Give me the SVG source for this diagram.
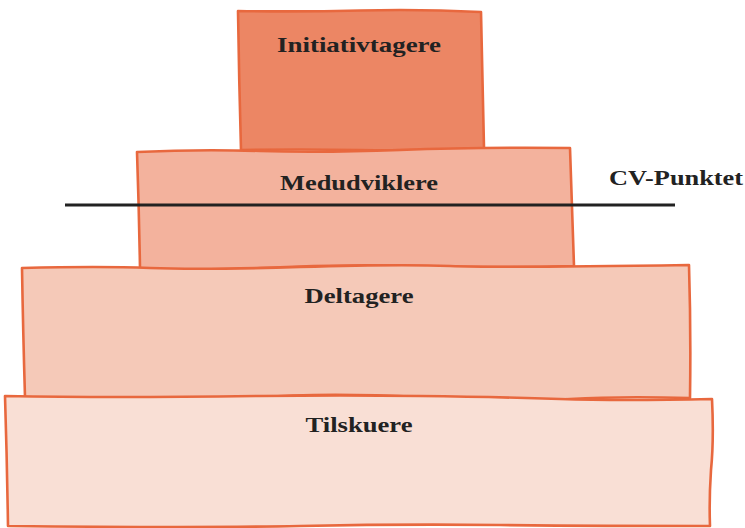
<svg xmlns="http://www.w3.org/2000/svg" width="745" height="528" viewBox="0 0 745 528">
  <style>
    .box { stroke: #E8683E; stroke-width: 2.6; stroke-linejoin: round; }
    .lbl { font-family: "Liberation Serif", "DejaVu Serif", serif; font-weight: bold; font-size: 22px; fill: #222222; text-anchor: middle; }
  </style>
  <rect width="745" height="528" fill="#ffffff"/>

  <g id="initiativtagere">
    <path class="box" fill="#EC8664" d="M238,11 Q300,12 360,10.5 T481,12 Q482,70 484,148 Q420,151 360,150 T241,150 Q239,80 238,11 Z"/>
    <text class="lbl" x="359" y="52" textLength="164" lengthAdjust="spacingAndGlyphs">Initiativtagere</text>
  </g>

  <g id="medudviklere">
    <path class="box" fill="#F3B29D" d="M137,152 Q200,149 260,151 T400,150 T570,148 Q572,200 574,266 Q500,268 420,266 T260,268 T140,268 Q139,210 137,152 Z"/>
    <text class="lbl" x="359" y="190" textLength="158" lengthAdjust="spacingAndGlyphs">Medudviklere</text>
  </g>

  <g id="deltagere">
    <path class="box" fill="#F5C9B8" d="M22,268 Q100,266 150,268 T300,267 T450,266 T689,265 Q691,330 690,398 Q620,396 570,399 T420,397 T250,398 T25,397 Q23,330 22,268 Z"/>
    <text class="lbl" x="359" y="303" textLength="109" lengthAdjust="spacingAndGlyphs">Deltagere</text>
  </g>

  <g id="tilskuere">
    <path class="box" fill="#F9DFD5" d="M5,396 Q60,397 120,397 T260,396 T420,396 T560,399 T712,399 Q714,440 711,470 Q709,500 710,526 Q600,526 500,525 T300,526 T8,526 Q7,460 5,396 Z"/>
    <text class="lbl" x="359" y="432" textLength="107" lengthAdjust="spacingAndGlyphs">Tilskuere</text>
  </g>

  <g id="connectors">
    <line x1="65" y1="205" x2="675" y2="205" stroke="#222222" stroke-width="3"/>
  </g>

  <g id="cv-punktet">
    <text class="lbl" x="676" y="185" textLength="134" lengthAdjust="spacingAndGlyphs">CV-Punktet</text>
  </g>
</svg>
